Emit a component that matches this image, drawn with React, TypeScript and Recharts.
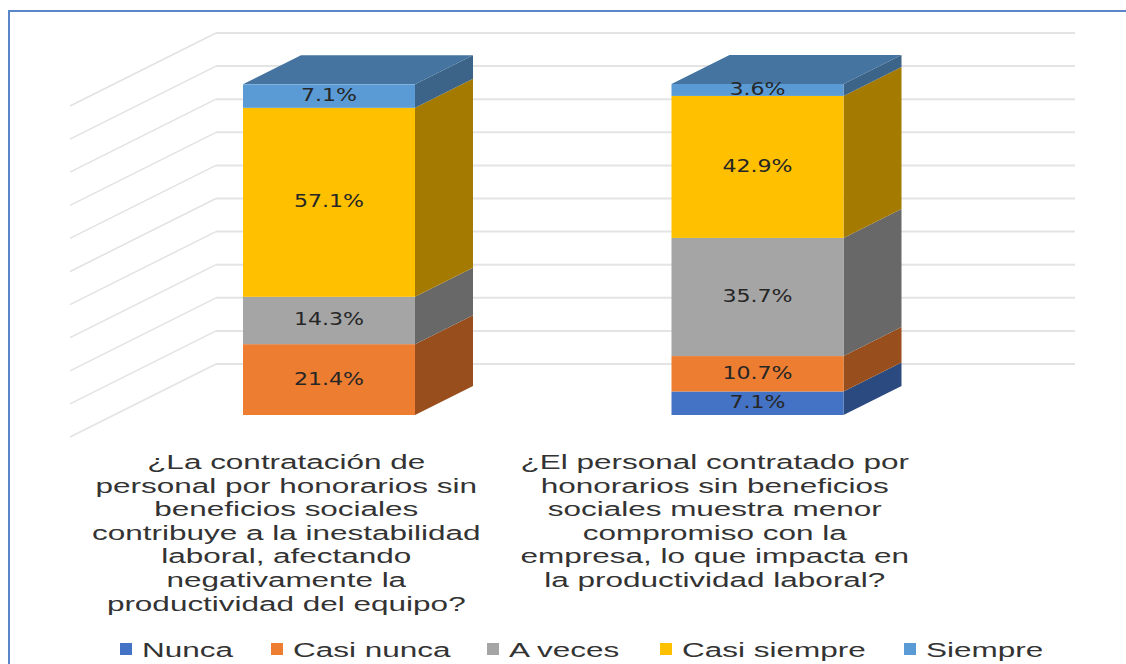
import { BarChart, Bar, XAxis, YAxis, CartesianGrid, Legend, LabelList } from 'recharts';

const questions = [
  [
    '¿La contratación de',
    'personal por honorarios sin',
    'beneficios sociales',
    'contribuye a la inestabilidad',
    'laboral, afectando',
    'negativamente la',
    'productividad del equipo?',
  ],
  [
    '¿El personal contratado por',
    'honorarios sin beneficios',
    'sociales muestra menor',
    'compromiso con la',
    'empresa, lo que impacta en',
    'la productividad laboral?',
  ],
];
const nunca = [0, 7.1];
const casiNunca = [21.4, 10.7];
const aVeces = [14.3, 35.7];
const casiSiempre = [57.1, 42.9];
const siempre = [7.1, 3.6];
const yTicks = [0, 10, 20, 30, 40, 50, 60, 70, 80, 90, 100];

const data = questions.map((lines, i) => ({
  name: lines.join('\n'),
  nunca: nunca[i],
  casiNunca: casiNunca[i],
  aVeces: aVeces[i],
  casiSiempre: casiSiempre[i],
  siempre: siempre[i],
}));

const WIDTH = 1126;
const HEIGHT = 664;
const TEXT_STRETCH = 1.5;
const LABEL_STRETCH = 1.3;

// profundidad de la barra y de la pared trasera (falso 3D)
const BAR_DX = 58;
const BAR_DY = 29;
const WALL_DX = 101;
const WALL_DY = 51;
const SIDE_DX = 45;
const SIDE_DY = 22;
const GRID_RIGHT = 1075;

function box(sideColor: string, topColor?: string) {
  return (props: any) => {
    const { x, y, width, height, fill } = props;
    if (!height || height <= 0) return <g />;
    const r = x + width;
    return (
      <g>
        <polygon
          points={`${r},${y} ${r + BAR_DX},${y - BAR_DY} ${r + BAR_DX},${y + height - BAR_DY} ${r},${y + height}`}
          fill={sideColor}
        />
        {topColor && (
          <polygon
            points={`${x},${y} ${x + BAR_DX},${y - BAR_DY} ${r + BAR_DX},${y - BAR_DY} ${r},${y}`}
            fill={topColor}
          />
        )}
        <rect x={x} y={y} width={width} height={height} fill={fill} />
      </g>
    );
  };
}

function gridLine(props: any) {
  const { x1, y1, key } = props;
  const backX = x1 + WALL_DX;
  const backY = y1 - WALL_DY;
  return (
    <g key={key}>
      <line x1={x1 - SIDE_DX} y1={y1 + SIDE_DY} x2={backX} y2={backY} stroke="#e2e2e2" strokeWidth={1.5} />
      <line x1={backX} y1={backY} x2={GRID_RIGHT} y2={backY} stroke="#e4e4e4" strokeWidth={2} />
    </g>
  );
}

function valueLabel(props: any) {
  const { x, y, width, height, value } = props;
  if (!value) return <g />;
  return (
    <text
      transform={`translate(${x + width / 2},${y + height / 2 + 5}) scale(${LABEL_STRETCH},1)`}
      textAnchor="middle"
      fontFamily="DejaVu Sans"
      fontSize={17}
      fill="#262626"
    >
      {value.toFixed(1)}%
    </text>
  );
}

function QuestionTick(props: any) {
  const { x, y, payload } = props;
  const lines: string[] = payload.value.split('\n');
  return (
    <g transform={`translate(${x - 43},${y + 46})`}>
      {lines.map((line, i) => (
        <text
          key={line}
          transform={`translate(0,${i * 23.6}) scale(${TEXT_STRETCH},1)`}
          textAnchor="middle"
          fontFamily="Liberation Sans"
          fontSize={21}
          fill="#333"
        >
          {line}
        </text>
      ))}
    </g>
  );
}

const legendX = [120, 271, 487, 660, 904];

function LegendRow({ payload }: any) {
  return (
    <svg width={WIDTH} height={30} style={{ display: 'block' }}>
      {(payload ?? []).map((item: any, i: number) => (
        <g key={item.value}>
          <rect x={legendX[i]} y={9} width={12} height={12} fill={item.color} />
          <text
            transform={`translate(${legendX[i] + 22},23) scale(${TEXT_STRETCH},1)`}
            fontFamily="Liberation Sans"
            fontSize={21}
            fill="#333"
          >
            {item.value}
          </text>
        </g>
      ))}
    </svg>
  );
}

export default function App() {
  return (
    <div style={{ position: 'absolute', left: 0, top: 0, width: WIDTH, height: HEIGHT, overflow: 'hidden', background: '#fff' }}>
      <div
        style={{
          position: 'absolute',
          left: 8,
          top: 10,
          right: -4,
          bottom: -4,
          border: '2px solid #5a85c8',
        }}
      />
      <BarChart
        width={WIDTH}
        height={HEIGHT}
        data={data}
        barSize={172}
        margin={{ top: 84, right: 154, bottom: 189, left: 115 }}
        style={{ position: 'absolute', left: 0, top: 0 }}
      >
        <CartesianGrid vertical={false} horizontal={gridLine} />
        <XAxis
          dataKey="name"
          axisLine={false}
          tickLine={false}
          interval={0}
          height={30}
          tick={<QuestionTick />}
        />
        <YAxis hide width={0} domain={[0, 100]} ticks={yTicks} />
        <Legend
          content={<LegendRow />}
          itemSorter={null}
          wrapperStyle={{ left: 0, top: 634, width: WIDTH, height: 30 }}
        />
        <Bar dataKey="nunca" name="Nunca" stackId="a" fill="#4472c4" shape={box('#2b4a80')} isAnimationActive={false}>
          <LabelList dataKey="nunca" content={valueLabel} />
        </Bar>
        <Bar dataKey="casiNunca" name="Casi nunca" stackId="a" fill="#ed7d31" shape={box('#984f1d')} isAnimationActive={false}>
          <LabelList dataKey="casiNunca" content={valueLabel} />
        </Bar>
        <Bar dataKey="aVeces" name="A veces" stackId="a" fill="#a5a5a5" shape={box('#686868')} isAnimationActive={false}>
          <LabelList dataKey="aVeces" content={valueLabel} />
        </Bar>
        <Bar dataKey="casiSiempre" name="Casi siempre" stackId="a" fill="#ffc000" shape={box('#a47b00')} isAnimationActive={false}>
          <LabelList dataKey="casiSiempre" content={valueLabel} />
        </Bar>
        <Bar dataKey="siempre" name="Siempre" stackId="a" fill="#5b9bd5" shape={box('#3b6488', '#44749f')} isAnimationActive={false}>
          <LabelList dataKey="siempre" content={valueLabel} />
        </Bar>
      </BarChart>
    </div>
  );
}
